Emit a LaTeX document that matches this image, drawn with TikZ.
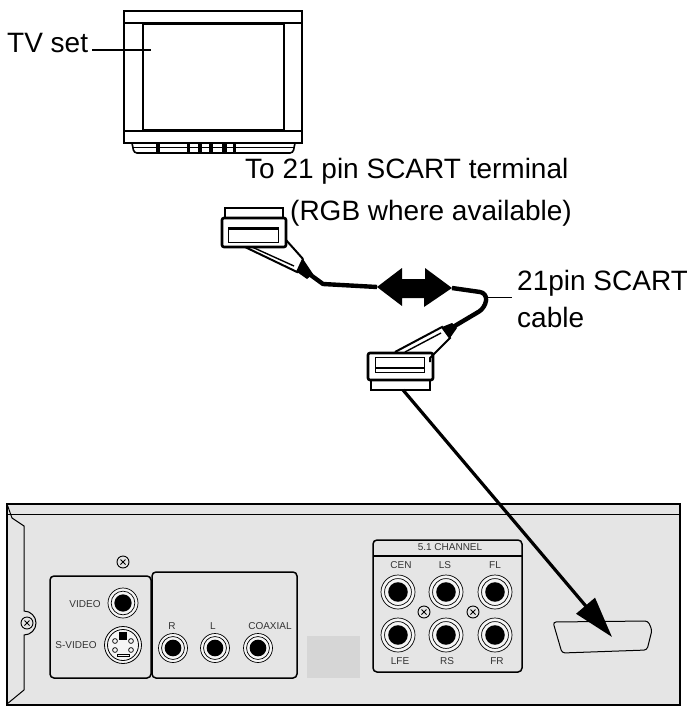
\documentclass[tikz,border=0pt]{standalone}
\usepackage{fontspec}
\setmainfont{Liberation Sans}
\usetikzlibrary{arrows.meta}
\tikzset{
    biglabel/.style={inner sep=0pt,font=\fontsize{28}{32}\selectfont},
    tinylabel/.style={inner sep=0pt,text=black!80,font=\fontsize{10}{11}\selectfont},
    panel/.style={draw,line width=1.5pt,rounded corners=4pt},
    thick line/.style={draw,line width=1.6pt},
    cablewire/.style={draw,line width=4.4pt,line join=round},
    screwring/.style={circle,draw,line width=.9pt,minimum size=12pt,inner sep=0pt,path picture={
        \draw[line width=1pt] ([shift={(-2.5pt,-2.5pt)}]path picture bounding box.center) -- ++(5pt,5pt)
            ([shift={(-2.5pt,2.5pt)}]path picture bounding box.center) -- ++(5pt,-5pt);}},
}
\newcommand{\jackat}[3]{% name, position, outer radius
    \node[circle,draw,line width=.7pt,fill=black!4,minimum size=2*#3 pt,inner sep=0pt] (#1) at (#2) {};
    \node[circle,draw,line width=.7pt,minimum size=1.58*#3 pt,inner sep=0pt] (#1m) at (#2) {};
    \node[circle,fill=black,minimum size=1.15*#3 pt,inner sep=0pt] (#1h) at (#2) {};
}
\begin{document}
\begin{tikzpicture}[x=1pt,y=-1pt]
    \useasboundingbox (0,0) rectangle (687,709);
    % television
    \draw[thick line] (124,11) rectangle (302,143);
    \draw[thick line] (124,23) -- (302,23) (124,131) -- (302,131);
    \draw[thick line] (143,24) rectangle (284,130);
    \draw[thick line,rounded corners=3pt] (132,143) -- (134,153) -- (293,153) -- (295,143);
    \draw[line width=.8pt] (133,147) -- (294,147);
    \foreach \px/\wd in {156/4,187/3,198/4,209/4,222/5,233/3}
        \fill (\px,144) rectangle ++(\wd,8);
    \node[biglabel,anchor=west] (tvlabel) at (7,43) {TV set};
    \coordinate (tvscreen) at (151,50);
    \draw[line width=1.4pt] (92,50) coordinate (tvlead) -- (tvscreen);
    % captions
    \node[biglabel,anchor=west] (termlabel) at (245,171) {To 21 pin SCART terminal};
    \node[biglabel,anchor=west] (rgblabel) at (290,213) {(RGB where available)};
    \node[biglabel,anchor=west] (cablelabel) at (517,283) {21pin SCART};
    \node[biglabel,anchor=west] (cablelabelb) at (517,317) {cable};
    % upper plug
    \draw[line width=1.2pt] (225,218) -- (225,208) -- (283,208) -- (283,218);
    \draw[line width=2.6pt,rounded corners=2pt] (222,218) rectangle (286,247);
    \draw[line width=1pt] (228,227) rectangle (278,242);
    \draw[line width=2pt] (228,229) -- (278,229);
    \draw[line width=2pt] (245,247) -- (297,272) -- (303,259) (286,240) -- (295,250) -- (303,259);
    \draw[line width=1.4pt] (252,247) -- (294,266);
    % cable with the double arrow
    \coordinate (plugup) at (301,268);
    \coordinate (arrowl) at (377,287);
    \coordinate (arrowr) at (452,288);
    \coordinate (wireend) at (453,327);
    \fill (297,272) -- (303,259) -- (313,274) -- (307,279) -- cycle;
    \draw[cablewire] (plugup) -- (323,284) -- (arrowl);
    \fill (arrowl) -- (402,268) -- (402,279) -- (425,279) -- (425,268) -- (arrowr)
        -- (424,307) -- (424,298) -- (402,298) -- (402,306) -- cycle;
    \draw[cablewire,rounded corners=7pt] (arrowr) -- (487,293) -- (485,308) -- (wireend);
    \coordinate (wiretail) at (512,297);
    \draw[line width=1pt] (488,297) -- (wiretail);
    % lower plug
    \fill (442,327) -- (450,338) -- (457,328) -- (452,323) -- cycle;
    \draw[line width=2pt] (395,352) -- (442,327) -- (450,338) -- (430,358) -- (430,362);
    \draw[line width=1.4pt] (405,352) -- (441,333);
    \draw[line width=2.6pt,rounded corners=2pt] (368,353) rectangle (433,380);
    \draw[line width=1pt] (375,357) rectangle (424,372);
    \draw[line width=2pt] (375,368) -- (424,368);
    \draw[line width=1.2pt] (371,380) -- (371,390) -- (430,390) -- (430,380);
    % player
    \draw[line width=1.5pt,fill=black!10] (7,504) rectangle (680,705);
    \draw[line width=1pt] (7,514) -- (680,514);
    \draw[line width=1pt] (7,504) -- (12,518) -- (24,526) -- (24,611) arc[start angle=-90,end angle=90,radius=12] -- (24,690) -- (7,704);
    \node[screwring] (backscrew) at (27,623) {};
    \node[screwring] (topscrew) at (123,562) {};
    \node[screwring] (midscrewa) at (424,612) {};
    \node[screwring] (midscrewb) at (473,612) {};
    \fill[black!16] (307,636) rectangle (360,678);
    \draw[panel] (50,576) rectangle (151,678);
    \draw[panel] (152,572) rectangle (297,678);
    \draw[panel] (373,540) rectangle (522,672);
    \draw[line width=1.5pt] (373,556) -- (522,556);
    % connectors on the panels
    \jackat{jvideo}{123,603}{15}
    \jackat{jr}{173,648}{14.5}
    \jackat{jl}{215,648}{14.5}
    \jackat{jcoax}{258,648}{14.5}
    \foreach \name/\px/\py in {jcen/398/592,jls/446/592,jfl/495/592,jlfe/398/635,jrs/446/635,jfr/495/635}
        {\jackat{\name}{\px,\py}{17}}
    \node[circle,draw,line width=.8pt,fill=black!4,minimum size=37pt,inner sep=0pt] (jsvideo) at (123,645) {};
    \node[circle,draw,line width=.8pt,minimum size=31pt,inner sep=0pt] (jsvideom) at (123,645) {};
    \foreach \dx/\dy in {-8/-4,8/-4,-8/5,8/5}
        \draw[line width=.7pt] (123+\dx,645+\dy) circle[radius=2.4];
    \fill (119,632) rectangle (127,640);
    \draw[line width=.8pt] (117,654) rectangle (129,656);
    % panel labels
    \node[tinylabel] (videolabel) at (85,604) {VIDEO};
    \node[tinylabel] (svideolabel) at (76,645) {S-VIDEO};
    \node[tinylabel] (rlabel) at (172,626) {R};
    \node[tinylabel] (llabel) at (213,626) {L};
    \node[tinylabel] (coaxlabel) at (270,626) {COAXIAL};
    \node[tinylabel] (chanlabel) at (450,547) {5.1 CHANNEL};
    \foreach \name/\px/\py/\txt in {cen/401/565/CEN,ls/445/565/LS,fl/495/565/FL,lfe/400/661/LFE,rs/447/661/RS,fr/497/661/FR}
        \node[tinylabel] (\name label) at (\px,\py) {\txt};
    % scart socket and the long arrow
    \draw[line width=1pt,rounded corners=3pt] (553,622) -- (648,621) -- (652,630) -- (647,650) -- (562,653) -- cycle;
    \coordinate (plugdown) at (403,390);
    \coordinate (sockettip) at (612,637);
    \draw[line width=3.2pt,-{Triangle[length=41pt,width=24pt]}] (plugdown) -- (sockettip);
\end{tikzpicture}
\end{document}
